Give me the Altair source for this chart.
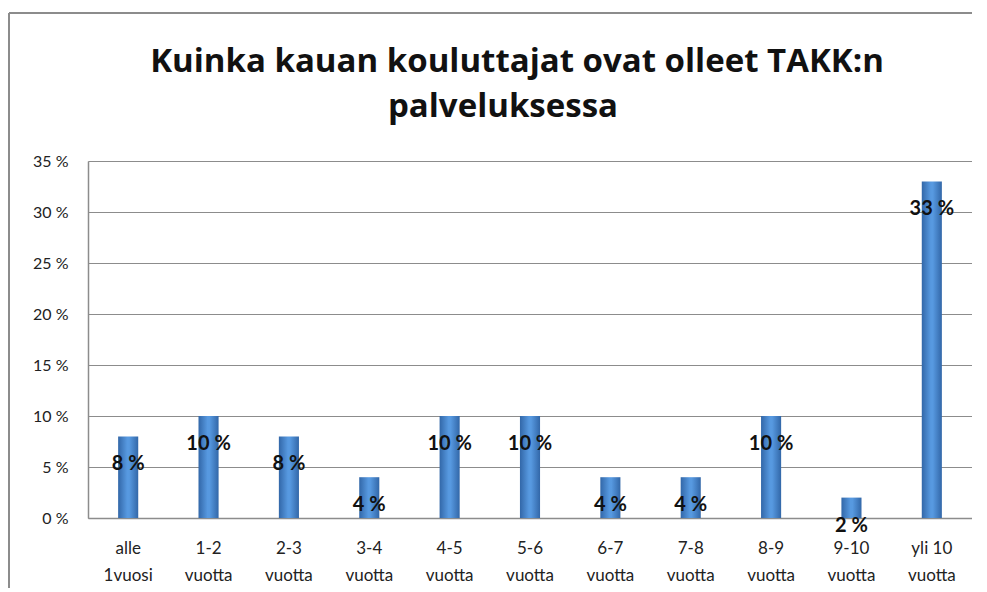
import altair as alt
import pandas as pd

categories = ["alle\n1vuosi", "1-2\nvuotta", "2-3\nvuotta", "3-4\nvuotta", "4-5\nvuotta",
              "5-6\nvuotta", "6-7\nvuotta", "7-8\nvuotta", "8-9\nvuotta", "9-10\nvuotta",
              "yli 10\nvuotta"]
values = [8, 10, 8, 4, 10, 10, 4, 4, 10, 2, 33]
title_line1 = "Kuinka kauan kouluttajat ovat olleet TAKK:n"
title_line2 = "palveluksessa"

df = pd.DataFrame({"cat": categories, "val": values})
df["lbl"] = df["val"].astype(str) + " %"

FONT = "Lato"
TFONT = "Open Sans"

x = alt.X("cat:N", sort=None, title=None,
          scale=alt.Scale(paddingInner=0.75, paddingOuter=0.375),
          axis=alt.Axis(labelAngle=0, labelExpr="split(datum.label, '\\n')",
                        labelFontSize=17, labelColor="#222", labelFont=FONT,
                        labelLineHeight=27, labelPadding=22, ticks=False,
                        domainColor="#8c8c8c", domainWidth=1.5, grid=False))
y = alt.Y("val:Q", title=None,
          scale=alt.Scale(domain=[0, 35], nice=False),
          axis=alt.Axis(values=[0, 5, 10, 15, 20, 25, 30, 35],
                        labelExpr="datum.value + ' %'", labelFontSize=16,
                        labelColor="#222", labelFont=FONT, labelPadding=20,
                        ticks=False, domainColor="#8c8c8c", domainWidth=1.5,
                        gridColor="#8c8c8c", gridWidth=1.2))

grad = alt.Gradient(gradient="linear", x1=0, x2=1, y1=0, y2=0,
                    stops=[alt.GradientStop(color="#3267a8", offset=0),
                           alt.GradientStop(color="#5799e0", offset=0.45),
                           alt.GradientStop(color="#5799e0", offset=0.55),
                           alt.GradientStop(color="#3267a8", offset=1)])

base = alt.Chart(df)
bars = base.mark_bar(color=grad).encode(x=x, y=y)
labels = base.mark_text(fontWeight="bold", fontSize=20, font=FONT, color="#111",
                        baseline="middle", dy=28).encode(x=x, y=y, text="lbl:N")

left_border = base.mark_rule(color="#8c8c8c", strokeWidth=2, clip=False).encode(
    x=alt.value(-79), y=alt.value(-148), y2=alt.value(460))
top_border = base.mark_rule(color="#8c8c8c", strokeWidth=2, clip=False).encode(
    x=alt.value(-79), x2=alt.value(920), y=alt.value(-148))

title_style = dict(font=TFONT, fontSize=33, fontWeight="bold", color="#111",
                   align="center", baseline="alphabetic", clip=False)
t1 = alt.Chart(pd.DataFrame({"t": [title_line1]})).mark_text(**title_style).encode(
    x=alt.value(429), y=alt.value(-89), text="t:N")
t2 = alt.Chart(pd.DataFrame({"t": [title_line2]})).mark_text(**title_style).encode(
    x=alt.value(415), y=alt.value(-44), text="t:N")

chart = alt.layer(bars, labels, left_border, top_border, t1, t2).properties(
    width=884, height=357,
    padding={"left": 80, "top": 153, "right": 0, "bottom": 70},
    autosize=alt.AutoSizeParams(type="none"),
).configure_view(stroke=None).configure(background="white")

chart.save("out.html", embed_options={"renderer": "svg", "actions": False})
